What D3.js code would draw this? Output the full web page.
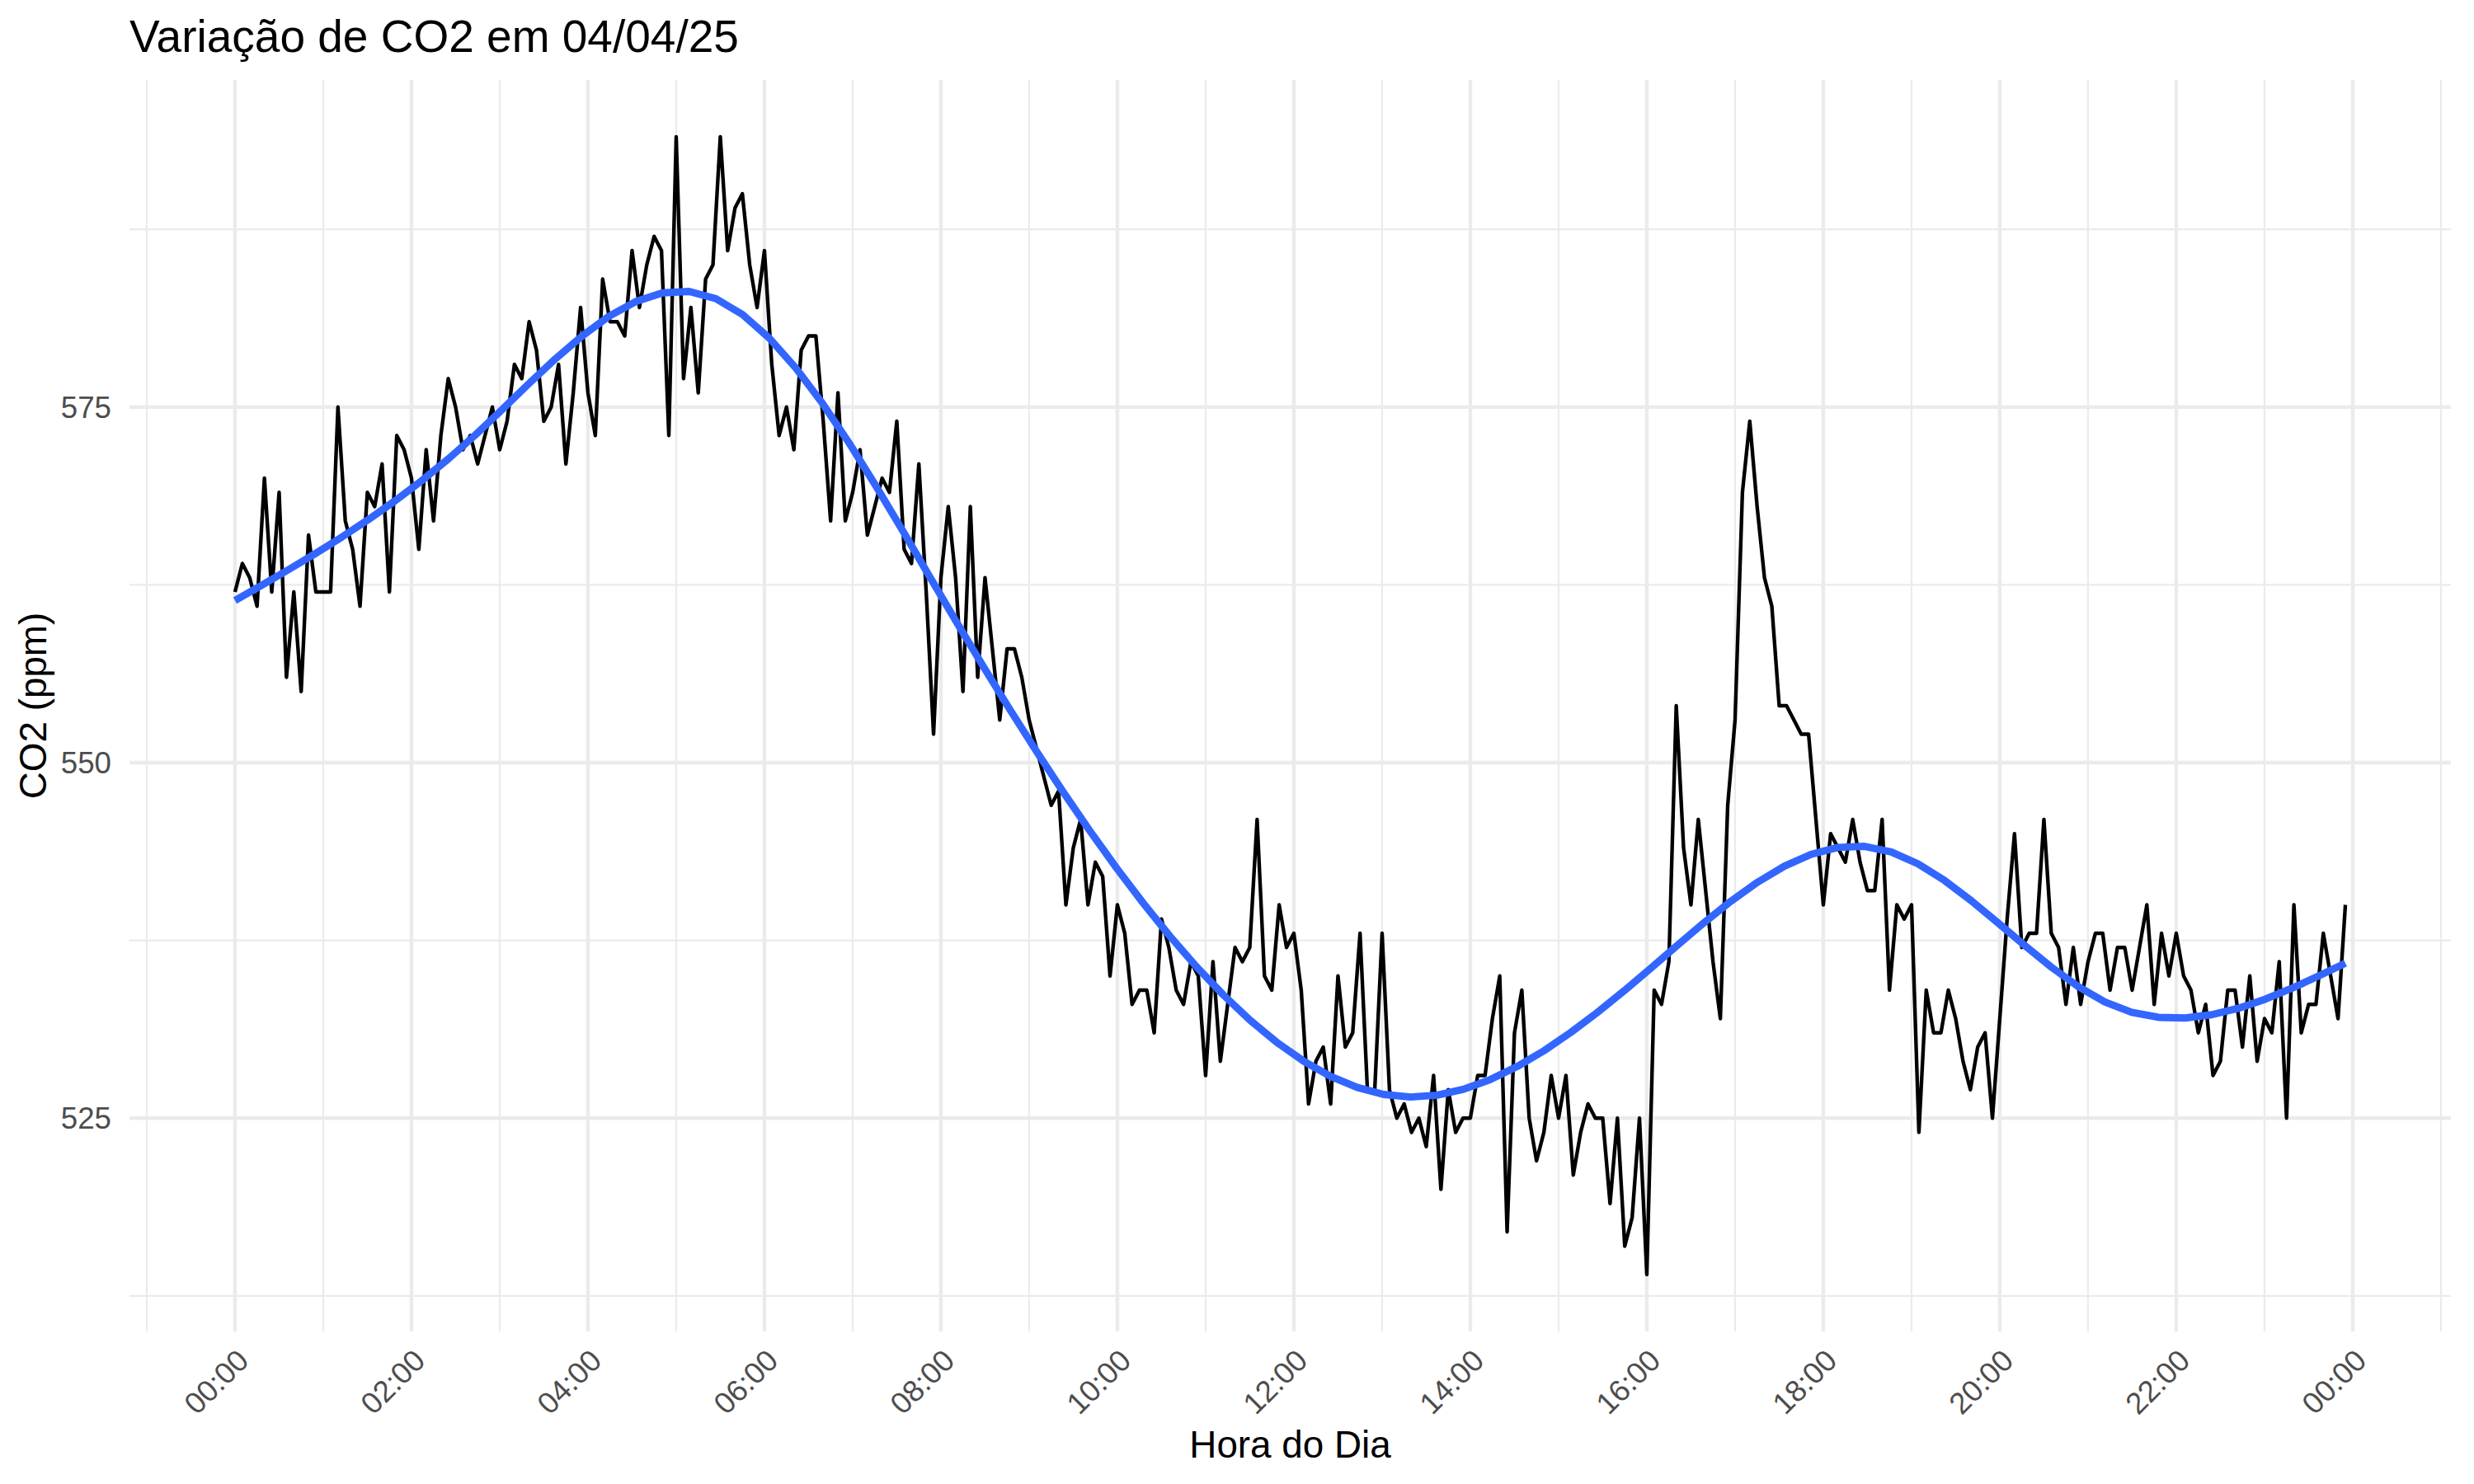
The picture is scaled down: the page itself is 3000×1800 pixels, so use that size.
<!DOCTYPE html>
<html>
<head>
<meta charset="utf-8">
<script src="https://cdn.jsdelivr.net/npm/d3@7"></script>
<style>
  html, body { margin: 0; padding: 0; background: #ffffff; }
  svg { display: block; }
  text { font-family: "Liberation Sans", Arial, Helvetica, sans-serif; }
</style>
</head>
<body>
<svg id="chart" width="3000" height="1800"></svg>
<script>
// ---------------- DATA ----------------
const chartTitle = "Variação de CO2 em 04/04/25";
const xTitle = "Hora do Dia";
const yTitle = "CO2 (ppm)";

// sampling: one reading every 5 minutes starting at 00:00
const startMinute = 0;
const stepMinutes = 5;

// CO2 readings (ppm), 00:00 - 05:55
const co2Madrugada = [
  562, 564, 563, 561, 570, 562, 569, 556, 562, 555, 566, 562,
  562, 562, 575, 567, 565, 561, 569, 568, 571, 562, 573, 572,
  570, 565, 572, 567, 573, 577, 575, 572, 573, 571, 573, 575,
  572, 574, 578, 577, 581, 579, 574, 575, 578, 571, 576, 582,
  576, 573, 584, 581, 581, 580, 586, 582, 585, 587, 586, 573,
  594, 577, 582, 576, 584, 585, 594, 586, 589, 590, 585, 582
];
// 06:00 - 11:55
const co2Manha = [
  586, 578, 573, 575, 572, 579, 580, 580, 574, 567, 576, 567,
  569, 572, 566, 568, 570, 569, 574, 565, 564, 571, 562, 552,
  563, 568, 563, 555, 568, 556, 563, 558, 553, 558, 558, 556,
  553, 551, 549, 547, 548, 540, 544, 546, 540, 543, 542, 535,
  540, 538, 533, 534, 534, 531, 539, 537, 534, 533, 536, 535,
  528, 536, 529, 533, 537, 536, 537, 546, 535, 534, 540, 537
];
// 12:00 - 17:55
const co2Tarde = [
  538, 534, 526, 529, 530, 526, 535, 530, 531, 538, 527, 527,
  538, 527, 525, 526, 524, 525, 523, 528, 520, 527, 524, 525,
  525, 528, 528, 532, 535, 517, 531, 534, 525, 522, 524, 528,
  525, 528, 521, 524, 526, 525, 525, 519, 525, 516, 518, 525,
  514, 534, 533, 536, 554, 544, 540, 546, 541, 536, 532, 547,
  553, 569, 574, 568, 563, 561, 554, 554, 553, 552, 552, 546
];
// 18:00 - 23:55
const co2Noite = [
  540, 545, 544, 543, 546, 543, 541, 541, 546, 534, 540, 539,
  540, 524, 534, 531, 531, 534, 532, 529, 527, 530, 531, 525,
  532, 539, 545, 537, 538, 538, 546, 538, 537, 533, 537, 533,
  536, 538, 538, 534, 537, 537, 534, 537, 540, 533, 538, 535,
  538, 535, 534, 531, 533, 528, 529, 534, 534, 530, 535, 529,
  532, 531, 536, 525, 540, 531, 533, 533, 538, 535, 532, 540
];

const xTickHours  = [0, 2, 4, 6, 8, 10, 12, 14, 16, 18, 20, 22, 24];
const xTickLabels = ["00:00","02:00","04:00","06:00","08:00","10:00","12:00",
                     "14:00","16:00","18:00","20:00","22:00","00:00"];
const xMinorHours = [-1, 1, 3, 5, 7, 9, 11, 13, 15, 17, 19, 21, 23, 25];
const yTicks      = [525, 550, 575];
const yMinorTicks = [512.5, 537.5, 562.5, 587.5];

// ---------------- BUILD ----------------
const co2 = [].concat(co2Madrugada, co2Manha, co2Tarde, co2Noite);
const data = co2.map((v, i) => ({ m: startMinute + i * stepMinutes, v }));

const W = 3000, H = 1800;
const panel = { left: 157, right: 2972, top: 97, bottom: 1615 };

const xExt = d3.extent(data, d => d.m);
const xPad = (xExt[1] - xExt[0]) * 0.05;
const yExt = d3.extent(data, d => d.v);
const yPad = (yExt[1] - yExt[0]) * 0.05;

const x = d3.scaleLinear().domain([xExt[0] - xPad, xExt[1] + xPad]).range([panel.left, panel.right]);
const y = d3.scaleLinear().domain([yExt[0] - yPad, yExt[1] + yPad]).range([panel.bottom, panel.top]);

const svg = d3.select("#chart");
svg.append("rect").attr("width", W).attr("height", H).attr("fill", "#ffffff");

const grid = svg.append("g");
const gridColor = "#EBEBEB";
grid.selectAll(".vminor").data(xMinorHours).join("line")
  .attr("x1", d => x(d * 60)).attr("x2", d => x(d * 60))
  .attr("y1", panel.top).attr("y2", panel.bottom)
  .attr("stroke", gridColor).attr("stroke-width", 2.2);
grid.selectAll(".hminor").data(yMinorTicks).join("line")
  .attr("y1", d => y(d)).attr("y2", d => y(d))
  .attr("x1", panel.left).attr("x2", panel.right)
  .attr("stroke", gridColor).attr("stroke-width", 2.2);
grid.selectAll(".vmajor").data(xTickHours).join("line")
  .attr("x1", d => x(d * 60)).attr("x2", d => x(d * 60))
  .attr("y1", panel.top).attr("y2", panel.bottom)
  .attr("stroke", gridColor).attr("stroke-width", 4.4);
grid.selectAll(".hmajor").data(yTicks).join("line")
  .attr("y1", d => y(d)).attr("y2", d => y(d))
  .attr("x1", panel.left).attr("x2", panel.right)
  .attr("stroke", gridColor).attr("stroke-width", 4.4);

// data line
const line = d3.line().x(d => x(d.m)).y(d => y(d.v));
svg.append("path").datum(data)
  .attr("d", line)
  .attr("fill", "none").attr("stroke", "#000000")
  .attr("stroke-width", 4.4).attr("stroke-linejoin", "round").attr("stroke-linecap", "butt");

// penalized regression spline (natural cubic spline, 10 knots), like geom_smooth(method = "gam")
function splineSmooth(xs, ys, nKnots, lambda, xEval) {
  const lo = d3.min(xs), hi = d3.max(xs);
  const K = nKnots;
  const s = v => (v - lo) / (hi - lo) * (K - 1);
  const knots = d3.range(K);
  const pos = u => Math.max(u, 0);
  const dk = (t, k) => (Math.pow(pos(t - knots[k]), 3) - Math.pow(pos(t - knots[K - 1]), 3)) / (knots[K - 1] - knots[k]);
  const dk2 = (t, k) => 6 * (pos(t - knots[k]) - pos(t - knots[K - 1])) / (knots[K - 1] - knots[k]);
  const basisT = t => {
    const b = [1, t];
    for (let k = 0; k < K - 2; k++) b.push(dk(t, k) - dk(t, K - 2));
    return b;
  };
  const basis2T = t => {
    const b = [0, 0];
    for (let k = 0; k < K - 2; k++) b.push(dk2(t, k) - dk2(t, K - 2));
    return b;
  };
  const p = K;
  const A = d3.range(p).map(() => new Array(p + 1).fill(0));
  xs.forEach((xx, i) => {
    const B = basisT(s(xx));
    for (let r = 0; r < p; r++) {
      A[r][p] += B[r] * ys[i];
      for (let c = 0; c < p; c++) A[r][c] += B[r] * B[c];
    }
  });
  // roughness penalty: integral of f''(t)^2 dt (numerical)
  const nInt = 2000, dt = (K - 1) / nInt;
  for (let g = 0; g < nInt; g++) {
    const B2 = basis2T((g + 0.5) * dt);
    for (let r = 0; r < p; r++)
      for (let c = 0; c < p; c++) A[r][c] += lambda * B2[r] * B2[c] * dt;
  }
  for (let c = 0; c < p; c++) {
    let piv = c;
    for (let r = c + 1; r < p; r++) if (Math.abs(A[r][c]) > Math.abs(A[piv][c])) piv = r;
    [A[c], A[piv]] = [A[piv], A[c]];
    for (let r = c + 1; r < p; r++) {
      const f = A[r][c] / A[c][c];
      for (let k = c; k <= p; k++) A[r][k] -= f * A[c][k];
    }
  }
  const beta = new Array(p).fill(0);
  for (let r = p - 1; r >= 0; r--) {
    let sum = A[r][p];
    for (let k = r + 1; k < p; k++) sum -= A[r][k] * beta[k];
    beta[r] = sum / A[r][r];
  }
  return xEval.map(v => ({ m: v, v: d3.sum(basisT(s(v)), (b, j) => b * beta[j]) }));
}
const nEval = 80;
const xEval = d3.range(nEval).map(i => xExt[0] + (xExt[1] - xExt[0]) * i / (nEval - 1));
const smooth = splineSmooth(data.map(d => d.m), data.map(d => d.v), 10, 0.15, xEval);
svg.append("path").datum(smooth)
  .attr("d", line)
  .attr("fill", "none").attr("stroke", "#3366FF")
  .attr("stroke-width", 8.9).attr("stroke-linejoin", "round").attr("stroke-linecap", "butt");

// y axis labels
const axisTextSize = 36.7;
svg.append("g").selectAll("text").data(yTicks).join("text")
  .attr("x", 135).attr("y", d => y(d)).attr("dy", "0.36em")
  .attr("text-anchor", "end").attr("font-size", axisTextSize).attr("fill", "#4D4D4D")
  .text(d => d);

// x axis labels (rotated 45°)
svg.append("g").selectAll("text").data(xTickHours).join("text")
  .attr("transform", d => `translate(${x(d * 60)},1634) rotate(-45)`)
  .attr("dy", "0.72em")
  .attr("text-anchor", "end").attr("font-size", axisTextSize).attr("fill", "#4D4D4D")
  .text((d, i) => xTickLabels[i]);

// axis titles
svg.append("text")
  .attr("x", (panel.left + panel.right) / 2).attr("y", 1768)
  .attr("text-anchor", "middle").attr("font-size", 45.8).attr("fill", "#000000")
  .text(xTitle);
svg.append("text")
  .attr("transform", `translate(56,${(panel.top + panel.bottom) / 2}) rotate(-90)`)
  .attr("text-anchor", "middle").attr("font-size", 45.8).attr("fill", "#000000")
  .text(yTitle);

// title
svg.append("text")
  .attr("x", panel.left).attr("y", 63)
  .attr("font-size", 55).attr("fill", "#000000")
  .text(chartTitle);
</script>
</body>
</html>
